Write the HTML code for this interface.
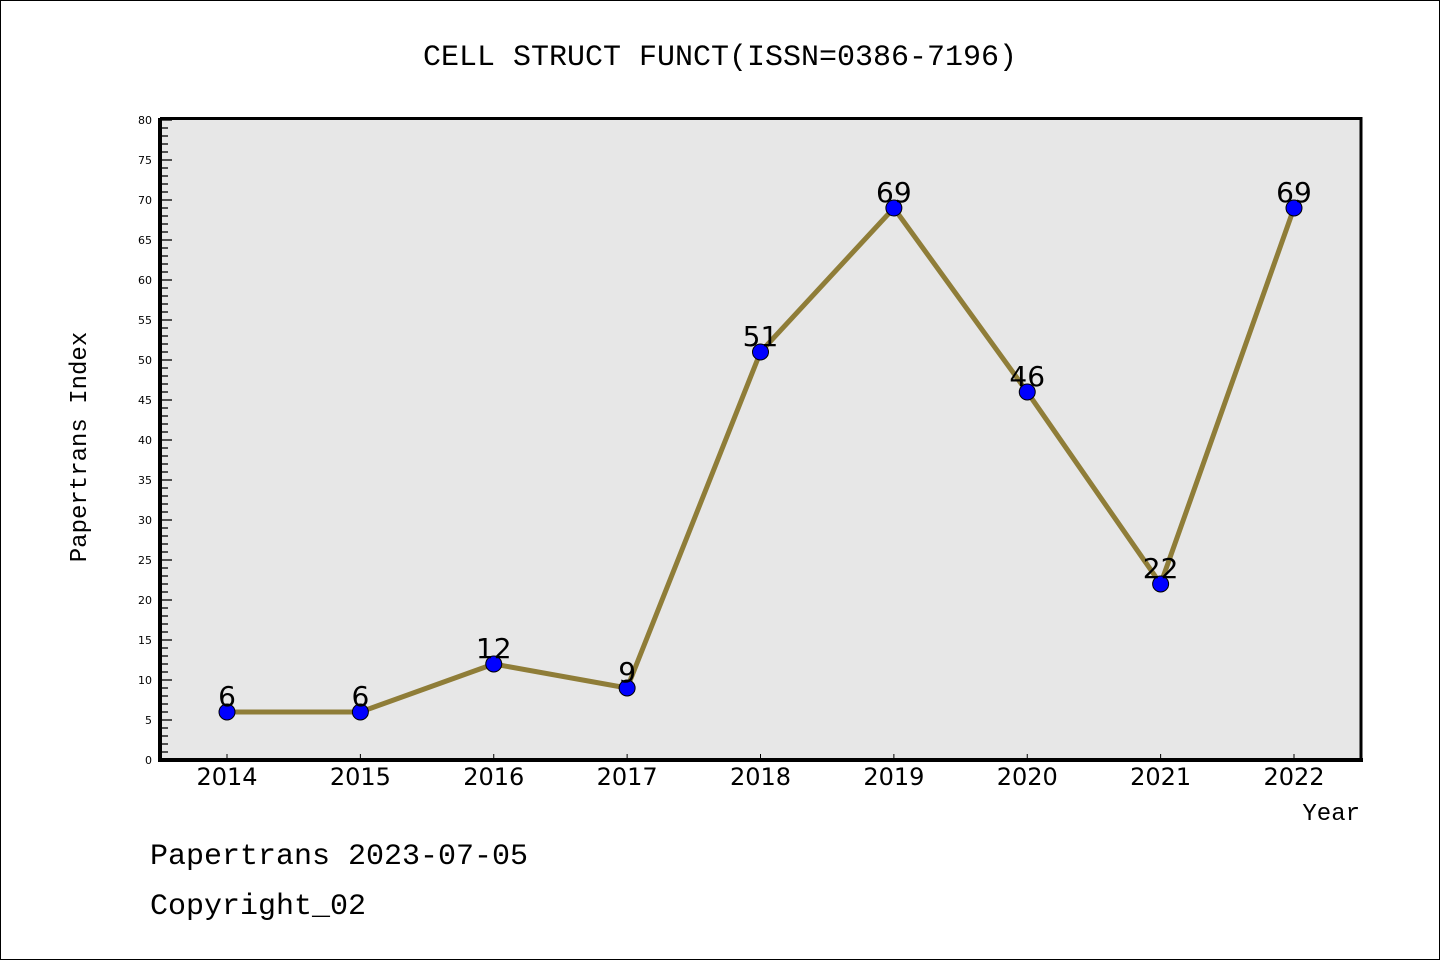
<!DOCTYPE html>
<html><head><meta charset="utf-8"><style>
html,body{margin:0;padding:0;background:#fff;}
svg{display:block;font-family:"Liberation Mono","DejaVu Sans Mono",monospace;}
</style></head><body>
<svg id="chart" width="1440" height="960" viewBox="0 0 1440 960">
<rect x="0.5" y="0.5" width="1439" height="959" fill="#fff" stroke="#000"/>
<text x="720" y="65" text-anchor="middle" font-size="30">CELL STRUCT FUNCT(ISSN=0386-7196)</text>
<rect x="160" y="120" width="1201" height="640" fill="#e7e7e7"/>
<g id="yticks"></g><g id="xticks"></g>
<path d="M160,118.5 L1361,118.5 L1361,760" fill="none" stroke="#000" stroke-width="3"/>
<line x1="160" y1="118" x2="160" y2="762" stroke="#000" stroke-width="4"/>
<line x1="158" y1="760" x2="1363" y2="760" stroke="#000" stroke-width="4"/>
<g id="series"></g>
<text x="86" y="447" transform="rotate(-90 86 447)" text-anchor="middle" font-size="24">Papertrans Index</text>
<text x="1360" y="820" text-anchor="end" font-size="24">Year</text>
<text x="150" y="864" font-size="30">Papertrans 2023-07-05</text>
<text x="150" y="914" font-size="30">Copyright_02</text>
</svg>
<script>
const categories=["2014","2015","2016","2017","2018","2019","2020","2021","2022"];
const values=[6,6,12,9,51,69,46,22,69];
const yTickLabels=[0,5,10,15,20,25,30,35,40,45,50,55,60,65,70,75,80];
const NS="http://www.w3.org/2000/svg";
const x0=227,x1=1294,yTop=120,yBot=760,yMax=80;
function xs(i){return x0+(x1-x0)*i/(categories.length-1);}
function ys(v){return yBot-(yBot-yTop)*v/yMax;}
function mk(tag,attrs,parent){const e=document.createElementNS(NS,tag);for(const k in attrs)e.setAttribute(k,attrs[k]);parent.appendChild(e);return e;}
const yt=document.getElementById('yticks');
for(let v=0;v<=yMax;v++){
  const y=ys(v);const major=v%5===0;
  const l=mk('line',{x1:160,y1:y,x2:160+(major?12:8),y2:y,stroke:'#000','stroke-width':1.3},yt);
  
  
}
yTickLabels.forEach(v=>{
  const t=mk('text',{x:152,y:ys(v)+4,'text-anchor':'end','font-size':11,'font-family':'DejaVu Sans, sans-serif'},yt);
  t.textContent=v;
  
  
});
const xt=document.getElementById('xticks');
categories.forEach((c,i)=>{
  const l=mk('line',{x1:xs(i),y1:760,x2:xs(i),y2:754,stroke:'#000','stroke-width':1},xt);
  
  
  const t=mk('text',{x:xs(i),y:785,'text-anchor':'middle','font-size':24,'font-family':'DejaVu Sans, sans-serif'},xt);
  t.textContent=c;
  
  
});
const s=document.getElementById('series');
const pts=values.map((v,i)=>xs(i)+','+ys(v)).join(' ');
const pl=mk('polyline',{points:pts,fill:'none',stroke:'#8f7d38','stroke-width':5,'stroke-linejoin':'round'},s);


values.forEach((v,i)=>{
  const c=mk('circle',{cx:xs(i),cy:ys(v),r:8,fill:'#0000ff',stroke:'#000','stroke-width':1},s);
  
  
  const t=mk('text',{x:xs(i),y:ys(v)-6,'text-anchor':'middle','font-size':28,'font-family':'DejaVu Sans, sans-serif'},s);
  t.textContent=v;
  
  
});
</script>
</body></html>
